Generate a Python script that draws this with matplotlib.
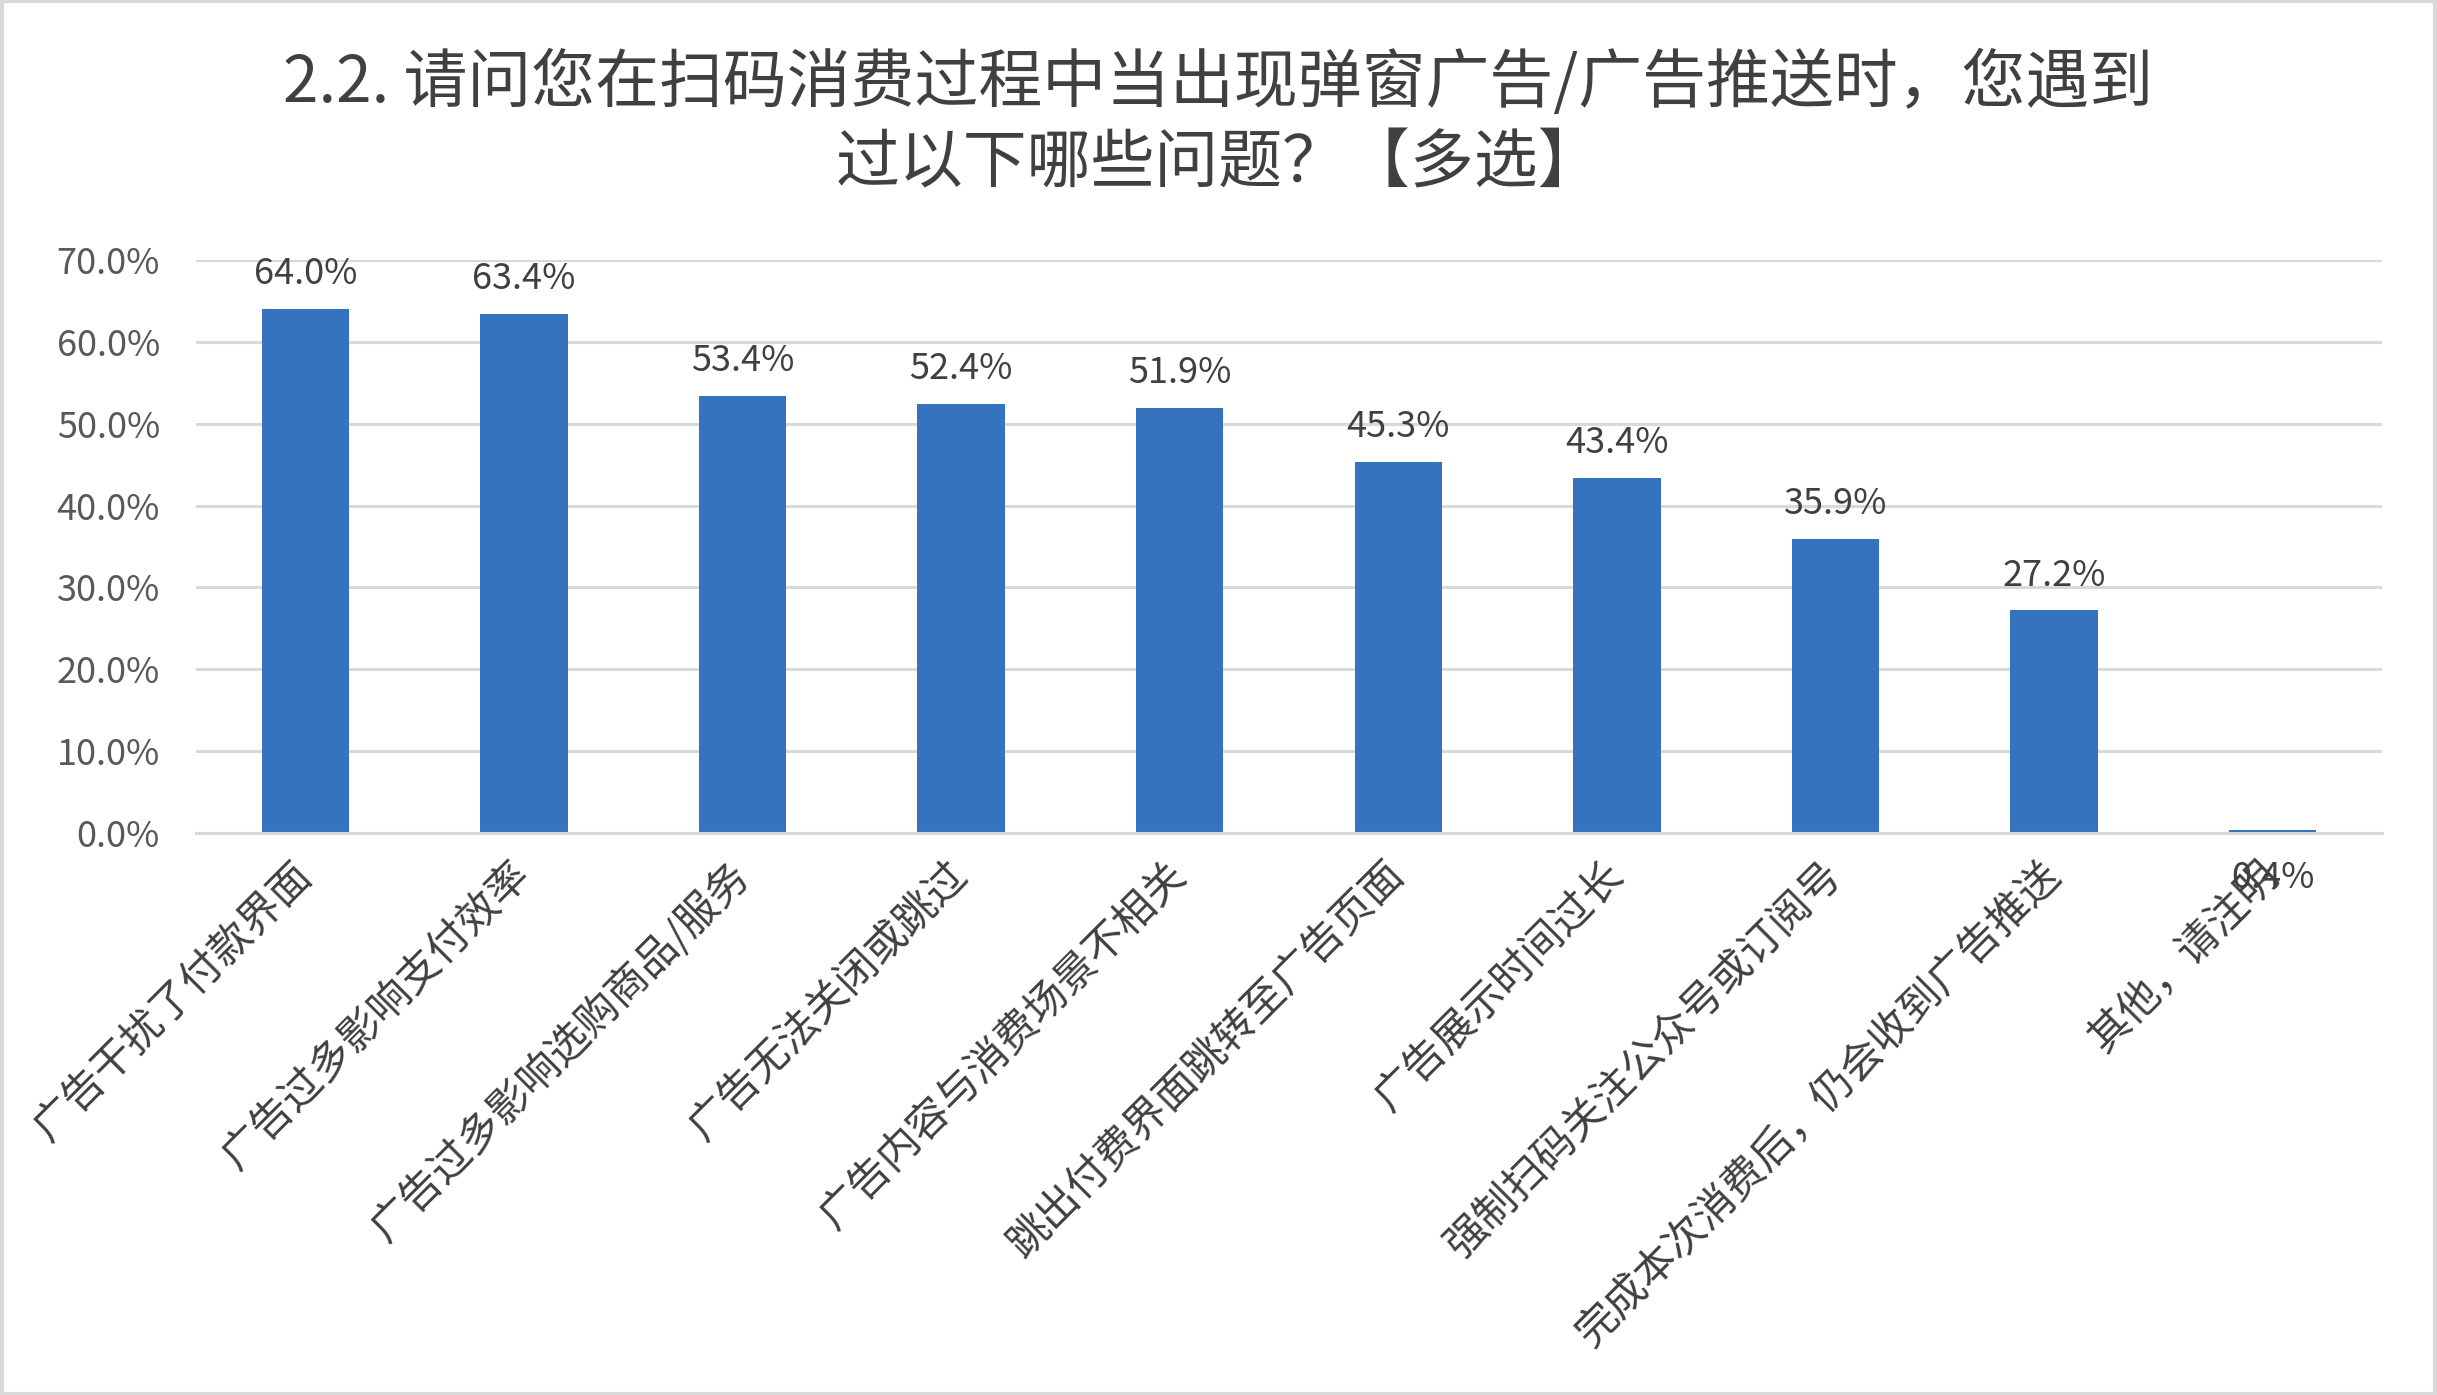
import matplotlib
matplotlib.use('Agg')
import matplotlib.pyplot as plt
from matplotlib.patches import Rectangle
from matplotlib.ticker import PercentFormatter

plt.rcParams['font.family'] = ['Noto Sans CJK SC', 'DejaVu Sans']

# data
categories = [
    '广告干扰了付款界面',
    '广告过多影响支付效率',
    '广告过多影响选购商品/服务',
    '广告无法关闭或跳过',
    '广告内容与消费场景不相关',
    '跳出付费界面跳转至广告页面',
    '广告展示时间过长',
    '强制扫码关注公众号或订阅号',
    '完成本次消费后，仍会收到广告推送',
    '其他，请注明',
]
values = [64.0, 63.4, 53.4, 52.4, 51.9, 45.3, 43.4, 35.9, 27.2, 0.4]
title_lines = ['2.2. 请问您在扫码消费过程中当出现弹窗广告/广告推送时，您遇到',
               '过以下哪些问题？【多选】']

fig = plt.figure(figsize=(24.37, 13.95), dpi=100)
ax = fig.add_axes([0.0804, 0.4029, 0.8970, 0.4107])

x = list(range(len(values)))
ax.bar(x, values, width=0.40, color='#3673BE', zorder=3)

# data labels
for xi, v in zip(x, values):
    if v < 5:
        # the tiny bar gets its label below the axis, as in the original
        ax.annotate(f'{v:.1f}%', (xi, v), xytext=(0, -35), textcoords='offset points',
                    ha='center', va='center', fontsize=26, color='#404040')
    else:
        ax.annotate(f'{v:.1f}%', (xi, v), xytext=(0, 25), textcoords='offset points',
                    ha='center', va='center', fontsize=26, color='#404040')

ax.set_xlim(-0.5, len(values) - 0.5)
ax.set_ylim(0, 70)
ax.set_yticks([0, 10, 20, 30, 40, 50, 60, 70])
ax.yaxis.set_major_formatter(PercentFormatter(decimals=1))
ax.grid(axis='y', color='#d9d9d9', linewidth=2.2, zorder=0)

for s in ['top', 'right', 'left']:
    ax.spines[s].set_visible(False)
ax.spines['bottom'].set_color('#d9d9d9')
ax.spines['bottom'].set_linewidth(2.2)
ax.spines['bottom'].set_zorder(4)

ax.tick_params(axis='y', length=0, pad=26, labelsize=26, labelcolor='#595959')
ax.tick_params(axis='x', length=0, pad=26)
ax.set_xticks(x)
ax.set_xticklabels(categories, rotation=45, ha='right', va='center',
                   rotation_mode='anchor', fontsize=30, color='#404040',
                   fontweight='light')

# title, two centred lines
fig.text(0.5, 1 - 84 / 1395, title_lines[0], ha='center', va='center',
         fontsize=46, color='#404040')
fig.text(0.5, 1 - 164 / 1395, title_lines[1], ha='center', va='center',
         fontsize=46, color='#404040')

# chart border
fig.patches.append(Rectangle((0.001, 0.001), 0.998, 0.998, transform=fig.transFigure,
                             fill=False, edgecolor='#d9d9d9', linewidth=3))

fig.savefig('out.png', dpi=100)
